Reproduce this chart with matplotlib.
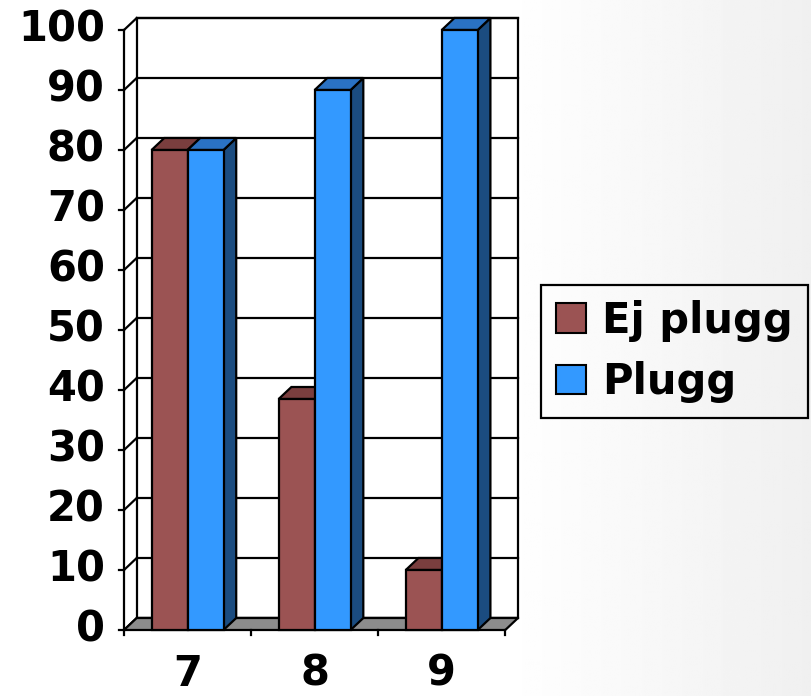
import numpy as np
import matplotlib.pyplot as plt
from matplotlib.patches import Polygon, Rectangle, Patch

# data
categories = ['7', '8', '9']
series_names = ['Ej plugg', 'Plugg']
ej_plugg = [80, 38.5, 10]
plugg = [80, 90, 100]

front_colors = ['#9b5353', '#3399ff']
top_colors = ['#7a3e3e', '#2a72c4']
side_colors = ['#5e2f2f', '#1b4c80']

W, H = 811, 696
fig = plt.figure(figsize=(W / 100, H / 100), dpi=100)

# background: white fading to light grey on the right
bg = fig.add_axes([0, 0, 1, 1])
grad = np.linspace(0, 1, 400)
grad = np.clip((grad - 0.62) / 0.38, 0, 1)
shade = 1 - 0.06 * grad
bg.imshow(np.tile(shade, (10, 1)), cmap='gray', vmin=0, vmax=1,
          aspect='auto', extent=[0, 1, 0, 1])
bg.set_xlim(0, 1)
bg.set_ylim(0, 1)
bg.axis('off')

# plot area in pixels: front axis x=124, back wall right x=518, y 0 -> 630, top back -> 18
x0px, x1px = 124, 518
y0px, y1px = 630, 18
ax = fig.add_axes([x0px / W, 1 - y0px / H, (x1px - x0px) / W, (y0px - y1px) / H])
ax.axis('off')

dx, dy = 0.1, 2.0
n = len(categories)
ax.set_xlim(0, n + dx)
ax.set_ylim(0, 100 + dy)

lw = 1.6
ymax = 100
yticks = np.arange(0, 101, 10)
fs = 30

# back wall with gridlines
ax.add_patch(Rectangle((dx, dy), n, ymax, facecolor='white', edgecolor='black',
                       lw=lw, clip_on=False, zorder=1))
for v in yticks:
    ax.plot([dx, n + dx], [v + dy, v + dy], color='black', lw=lw, zorder=1.5,
            clip_on=False)
    ax.plot([0, dx], [v, v + dy], color='black', lw=lw, zorder=1.5, clip_on=False)
    ax.plot([-0.04, 0], [v, v], color='black', lw=lw, zorder=1.5, clip_on=False)
    ax.text(-0.15, v, str(v), ha='right', va='center', fontsize=fs,
            fontweight='bold', clip_on=False)

# front (left) axis line
ax.plot([0, 0], [0, ymax], color='black', lw=lw, zorder=1.5, clip_on=False)

# floor
ax.add_patch(Polygon([(0, 0), (n, 0), (n + dx, dy), (dx, dy)], closed=True,
                     facecolor='#8c8c8c', edgecolor='black', lw=lw,
                     clip_on=False, zorder=2))
for i in range(n + 1):
    ax.plot([i, i], [0, -0.8], color='black', lw=lw, clip_on=False, zorder=2)

# bars
bw = 0.283
for i, cat in enumerate(categories):
    center = i + 0.5
    for j, vals in enumerate([ej_plugg, plugg]):
        v = vals[i]
        xl = center - bw + j * bw
        xr = xl + bw
        ax.add_patch(Polygon([(xr, 0), (xr + dx, dy), (xr + dx, v + dy), (xr, v)],
                             closed=True, facecolor=side_colors[j],
                             edgecolor='black', lw=lw, zorder=3, clip_on=False))
        ax.add_patch(Polygon([(xl, v), (xr, v), (xr + dx, v + dy), (xl + dx, v + dy)],
                             closed=True, facecolor=top_colors[j],
                             edgecolor='black', lw=lw, zorder=3, clip_on=False))
        ax.add_patch(Rectangle((xl, 0), bw, v, facecolor=front_colors[j],
                               edgecolor='black', lw=lw, zorder=3, clip_on=False))
    ax.text(center, -7.3, cat, ha='center', va='center', fontsize=fs,
            fontweight='bold', clip_on=False)

# legend
handles = [Patch(facecolor=c, edgecolor='black', lw=1.5) for c in front_colors]
leg = fig.legend(handles, series_names, loc='upper left',
                 bbox_to_anchor=(541 / W, 1 - 285 / H),
                 prop={'size': fs, 'weight': 'bold'}, frameon=True,
                 fancybox=False, edgecolor='black', facecolor='none',
                 framealpha=1,
                 handlelength=0.72, handleheight=0.72, handletextpad=0.4,
                 borderpad=0.35, labelspacing=0.47, borderaxespad=0)
leg.get_frame().set_linewidth(1.6)

fig.savefig('out.png', dpi=100)
